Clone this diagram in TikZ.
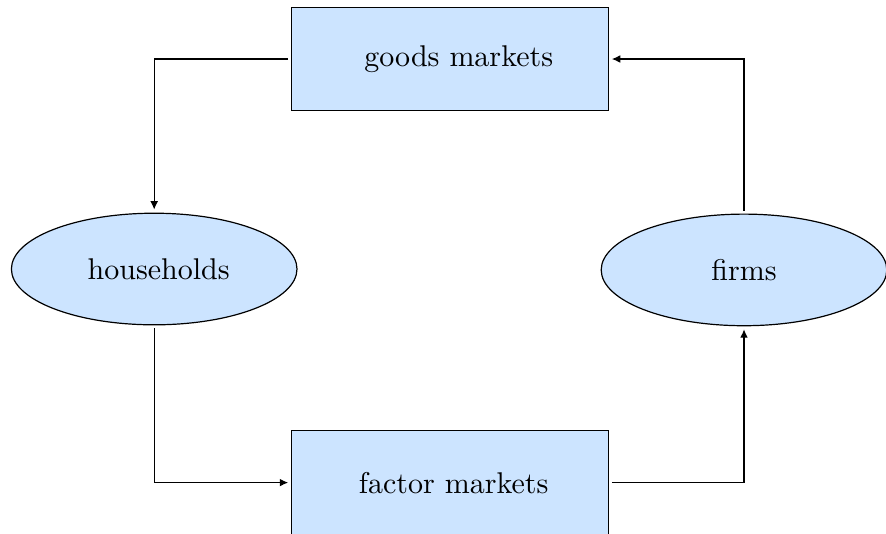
\documentclass[tikz,border=0pt]{standalone}
\usepackage{tikz}
\usetikzlibrary{shapes,arrows.meta,positioning,calc}
\definecolor{marketblue}{RGB}{204,228,255}
\tikzset{market/.style={
    draw,
    rectangle,
    fill=marketblue,
    minimum width=105.5pt,
    minimum height=34.5pt,
    align=center,
  }}
\tikzset{agent/.style={
    draw,
    ellipse,
    fill=marketblue,
    minimum width=95.2pt,
    minimum height=37.2pt,
    inner sep=0pt,
  }}
\tikzset{flow/.style={
    draw,
    line width=0.4pt,
    -{Latex[length=2.8pt,width=2.6pt]},
    shorten <=1pt,
    shorten >=1pt,
  }}

\begin{document}
\begin{tikzpicture}
        \useasboundingbox (0,0) rectangle (295.33pt,177.67pt);

        \node (goods) [market] at (150pt,158pt) {\hspace*{5.8pt}goods markets};
        \node (factor) [market] at (150pt,16.8pt) {\hspace*{2.4pt}factor markets};

        \node (house) [agent] at (51.4pt,88pt) {\hspace*{3pt}households};
        \node (firms) [agent] at (248pt,87.7pt) {firms};

        % circular flow
        \draw [flow] (goods.west) -| (house.north);
        \draw [flow] (house.south) |- (factor.west);
        \draw [flow] (factor.east) -| (firms.south);
        \draw [flow] (firms.north) |- (goods.east);
      \end{tikzpicture}
\end{document}
